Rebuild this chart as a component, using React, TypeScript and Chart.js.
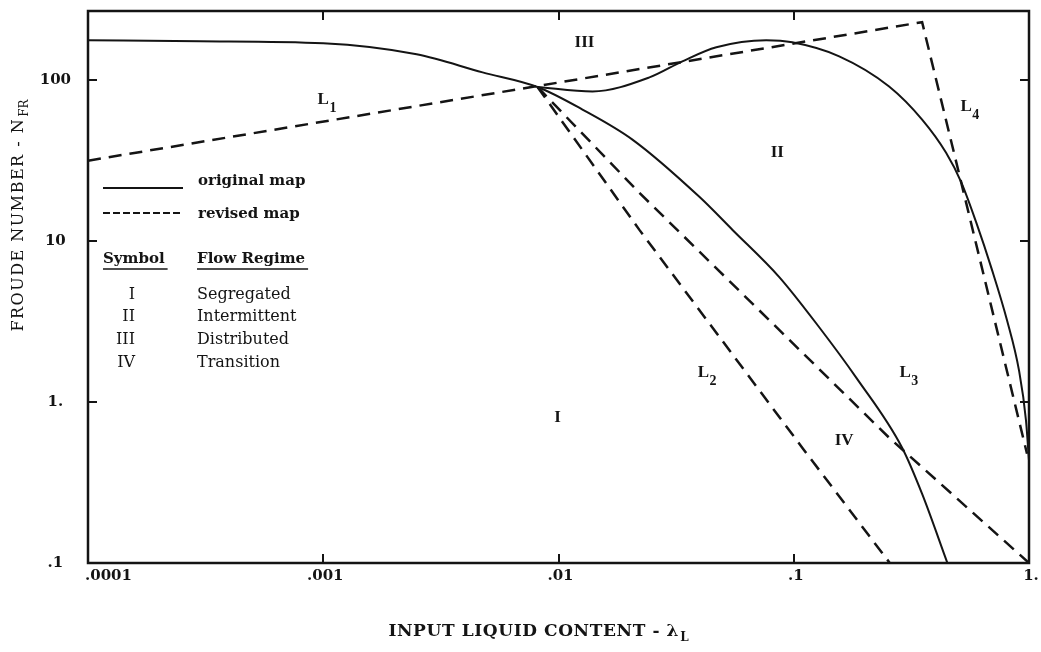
import React, { useEffect, useRef } from "react";
import { Chart, registerables } from "chart.js";

Chart.register(...registerables);

// ---------- axis ticks ----------
const xTickValues = [0.0001, 0.001, 0.01, 0.1, 1];
const xTickLabels = [".0001", ".001", ".01", ".1", "1."];
const yTickValues = [0.1, 1, 10, 100];
const yTickLabels = [".1", "1.", "10", "100"];

// ---------- original map (solid) ----------
const originalUpperX = [0.0001, 0.000299, 0.001, 0.002494, 0.004757, 0.008143, 0.012645, 0.020617, 0.039696, 0.054814, 0.086783, 0.128296, 0.184292, 0.288806, 0.351317, 0.45];
const originalUpperY = [177.7, 175.1, 170.2, 145.3, 112.2, 91, 65.9, 42.85, 18.89, 11.8, 5.99, 2.92, 1.42, 0.521, 0.269, 0.1];

const originalBumpX = [0.008143, 0.013945, 0.024342, 0.033617, 0.046878, 0.07638, 0.098537, 0.15603, 0.254323, 0.351317, 0.444246, 0.514342, 0.5955, 0.696667, 0.8064, 0.906817, 0.971198, 1];
const originalBumpY = [91, 85.4, 104.4, 131.4, 160.6, 177.7, 172.6, 141.2, 91.7, 57.1, 35.5, 23.4, 13.19, 6.62, 3.23, 1.574, 0.768, 0.432];

// ---------- revised map (dashed) ----------
const revisedL1L4X = [0.0001, 0.351317, 0.514342, 0.98063];
const revisedL1L4Y = [31.7, 230.1, 23.4, 0.478];

const revisedL2X = [0.008143, 0.022074, 0.10867, 0.256];
const revisedL2Y = [91, 11.77, 0.521, 0.1];

const revisedL3X = [0.008143, 0.022074, 0.254323, 1];
const revisedL3Y = [91, 20.0, 0.601, 0.1];

// ---------- annotations ----------
const regionNames = ["I", "II", "III", "IV"];
const regionX = [0.009904, 0.08509, 0.01289, 0.16383];
const regionY = [0.8, 35.5, 172.6, 0.576];

const boundarySubs = ["1", "2", "3", "4"];
const boundaryX = [0.001, 0.04126, 0.2975, 0.5401];
const boundaryY = [76.1, 1.53, 1.53, 68.8];

const legendLines = ["original map", "revised map"];
const regimeSymbols = ["I", "II", "III", "IV"];
const regimeNames = ["Segregated", "Intermittent", "Distributed", "Transition"];

const INK = "#141414";

const toPoints = (xs: number[], ys: number[]) => xs.map((x, i) => ({ x, y: ys[i] }));

const decorPlugin = {
  id: "decor",
  afterDraw(chart: any) {
    const { ctx, chartArea: a, scales } = chart;
    const xs = scales.x;
    const ys = scales.y;
    ctx.save();
    ctx.strokeStyle = INK;
    ctx.fillStyle = INK;
    ctx.setLineDash([]);

    // frame
    ctx.lineWidth = 2.5;
    ctx.strokeRect(a.left, a.top, a.right - a.left, a.bottom - a.top);

    // inward ticks on all four sides
    ctx.lineWidth = 2;
    const tl = 9;
    ctx.beginPath();
    xTickValues.forEach((v) => {
      const px = Math.round(xs.getPixelForValue(v));
      ctx.moveTo(px, a.bottom);
      ctx.lineTo(px, a.bottom - tl);
      ctx.moveTo(px, a.top);
      ctx.lineTo(px, a.top + tl);
    });
    yTickValues.forEach((v) => {
      const py = Math.round(ys.getPixelForValue(v));
      ctx.moveTo(a.left, py);
      ctx.lineTo(a.left + tl, py);
      ctx.moveTo(a.right, py);
      ctx.lineTo(a.right - tl, py);
    });
    ctx.stroke();

    // x tick labels
    ctx.font = "bold 15px 'DejaVu Serif'";
    ctx.textBaseline = "top";
    xTickValues.forEach((v, i) => {
      const px = xs.getPixelForValue(v);
      ctx.textAlign = i === 0 ? "left" : "center";
      ctx.fillText(xTickLabels[i], i === 0 ? px - 3 : px + 2, a.bottom + 6);
    });

    // region labels
    ctx.font = "bold 17px 'Liberation Serif'";
    ctx.textAlign = "center";
    ctx.textBaseline = "middle";
    regionNames.forEach((t, i) => {
      ctx.fillText(t, xs.getPixelForValue(regionX[i]), ys.getPixelForValue(regionY[i]));
    });

    // boundary labels L1..L4
    boundarySubs.forEach((s, i) => {
      const cx = xs.getPixelForValue(boundaryX[i]);
      const cy = ys.getPixelForValue(boundaryY[i]);
      ctx.font = "bold 17px 'Liberation Serif'";
      ctx.textAlign = "left";
      const wl = ctx.measureText("L").width;
      ctx.fillText("L", cx - wl / 2, cy);
      ctx.font = "bold 14px 'Liberation Serif'";
      ctx.fillText(s, cx + wl / 2 + 0.5, cy + 9);
    });

    // legend block
    const lx = a.left;
    const ty = a.top;
    ctx.lineWidth = 2;
    ctx.beginPath();
    ctx.moveTo(lx + 15, ty + 177);
    ctx.lineTo(lx + 95, ty + 177);
    ctx.stroke();
    ctx.setLineDash([7, 3]);
    ctx.beginPath();
    ctx.moveTo(lx + 15, ty + 202);
    ctx.lineTo(lx + 95, ty + 202);
    ctx.stroke();
    ctx.setLineDash([]);

    ctx.font = "bold 15px 'DejaVu Serif'";
    ctx.textAlign = "left";
    ctx.textBaseline = "middle";
    ctx.fillText(legendLines[0], lx + 110, ty + 170);
    ctx.fillText(legendLines[1], lx + 110, ty + 203);

    ctx.fillText("Symbol", lx + 15, ty + 248);
    ctx.fillText("Flow Regime", lx + 109, ty + 248);
    const w1 = ctx.measureText("Symbol").width;
    const w2 = ctx.measureText("Flow Regime").width;
    ctx.lineWidth = 1.5;
    ctx.beginPath();
    ctx.moveTo(lx + 15, ty + 258);
    ctx.lineTo(lx + 15 + w1 + 3, ty + 258);
    ctx.moveTo(lx + 109, ty + 258);
    ctx.lineTo(lx + 109 + w2 + 3, ty + 258);
    ctx.stroke();

    const rowY = [284, 306, 329, 352];
    regimeSymbols.forEach((s, i) => {
      ctx.font = "16px 'DejaVu Serif'";
      ctx.textAlign = "right";
      ctx.fillText(s, lx + 47, ty + rowY[i]);
      ctx.textAlign = "left";
      ctx.fillText(regimeNames[i], lx + 109, ty + rowY[i]);
    });

    // x axis title with subscript
    ctx.textBaseline = "middle";
    ctx.font = "bold 17px 'DejaVu Serif'";
    (ctx as any).letterSpacing = "0.6px";
    const xMain = "INPUT LIQUID CONTENT - \u03BB";
    const xwMain = ctx.measureText(xMain).width;
    (ctx as any).letterSpacing = "0px";
    ctx.font = "bold 12px 'DejaVu Serif'";
    const xwSub = ctx.measureText("L").width;
    const xStart = 538 - (xwMain + xwSub) / 2;
    ctx.font = "bold 17px 'DejaVu Serif'";
    (ctx as any).letterSpacing = "0.6px";
    ctx.textAlign = "left";
    ctx.fillText(xMain, xStart, 632);
    (ctx as any).letterSpacing = "0px";
    ctx.font = "bold 12px 'DejaVu Serif'";
    ctx.fillText("L", xStart + xwMain + 1, 638);

    // y axis title with subscript (rotated)
    ctx.translate(19, 216);
    ctx.rotate(-Math.PI / 2);
    ctx.font = "16px 'DejaVu Serif'";
    (ctx as any).letterSpacing = "1.5px";
    const yMain = "FROUDE NUMBER - N";
    const ywMain = ctx.measureText(yMain).width;
    ctx.font = "12px 'DejaVu Serif'";
    (ctx as any).letterSpacing = "0px";
    const ywSub = ctx.measureText("FR").width;
    const yStart = -(ywMain + ywSub) / 2;
    ctx.font = "16px 'DejaVu Serif'";
    (ctx as any).letterSpacing = "1.5px";
    ctx.fillText(yMain, yStart, 0);
    ctx.font = "12px 'DejaVu Serif'";
    (ctx as any).letterSpacing = "0px";
    ctx.fillText("FR", yStart + ywMain + 1, 6);

    ctx.restore();
  },
};

export default function App() {
  const canvasRef = useRef<HTMLCanvasElement | null>(null);

  useEffect(() => {
    document.body.style.margin = "0";
    document.body.style.background = "#ffffff";
    const canvas = canvasRef.current;
    if (!canvas) return;

    const solid = {
      borderColor: INK,
      borderWidth: 2,
      pointRadius: 0,
      fill: false,
      cubicInterpolationMode: "monotone" as const,
    };
    const dashed = {
      borderColor: INK,
      borderWidth: 2.5,
      pointRadius: 0,
      fill: false,
      tension: 0,
      borderDash: [13, 8],
    };

    const chart = new Chart(canvas, {
      type: "line",
      data: {
        datasets: [
          { label: "original map", data: toPoints(originalUpperX, originalUpperY), ...solid },
          { label: "original map (upper)", data: toPoints(originalBumpX, originalBumpY), ...solid },
          { label: "revised map L1/L4", data: toPoints(revisedL1L4X, revisedL1L4Y), ...dashed },
          { label: "revised map L2", data: toPoints(revisedL2X, revisedL2Y), ...dashed },
          { label: "revised map L3", data: toPoints(revisedL3X, revisedL3Y), ...dashed },
        ],
      },
      options: {
        animation: false,
        responsive: false,
        maintainAspectRatio: false,
        layout: { padding: { top: 11, right: 12, left: 0, bottom: 0 } },
        plugins: { legend: { display: false }, tooltip: { enabled: false } },
        scales: {
          x: {
            type: "logarithmic",
            min: 0.0001,
            max: 1,
            afterFit: (s: any) => {
              s.height = 89;
              s.paddingLeft = 0;
              s.paddingRight = 0;
            },
            afterBuildTicks: (s: any) => {
              s.ticks = xTickValues.map((v) => ({ value: v }));
            },
            ticks: { display: false },
            grid: { display: false },
            border: { display: false },
          },
          y: {
            type: "logarithmic",
            min: 0.1,
            max: 270,
            afterFit: (s: any) => {
              s.width = 88;
              s.paddingTop = 0;
              s.paddingBottom = 0;
            },
            afterBuildTicks: (s: any) => {
              s.ticks = yTickValues.map((v) => ({ value: v }));
            },
            ticks: {
              autoSkip: false,
              callback: (_v: any, i: number) => yTickLabels[i],
              font: { family: "'DejaVu Serif'", size: 15, weight: "bold" },
              color: INK,
              padding: 9,
              crossAlign: "center",
            },
            grid: { display: false },
            border: { display: false },
          },
        },
      },
      plugins: [decorPlugin],
    } as any);

    return () => chart.destroy();
  }, []);

  return (
    <canvas
      ref={canvasRef}
      width={1041}
      height={652}
      style={{ display: "block", width: 1041, height: 652 }}
    />
  );
}
